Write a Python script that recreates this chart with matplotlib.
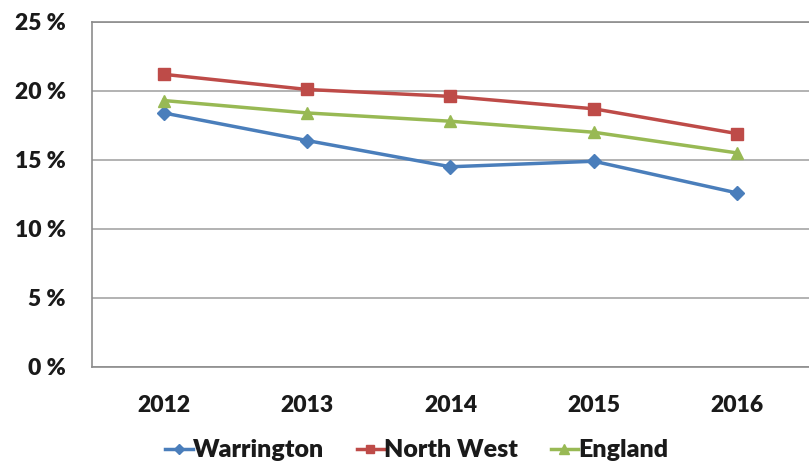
import matplotlib.pyplot as plt
from matplotlib.ticker import FuncFormatter

years = ['2012', '2013', '2014', '2015', '2016']
warrington = [18.4, 16.4, 14.5, 14.9, 12.6]
north_west = [21.2, 20.1, 19.6, 18.7, 16.9]
england = [19.3, 18.4, 17.8, 17.0, 15.5]

plt.rcParams['font.family'] = ['Lato', 'DejaVu Sans']

fig = plt.figure(figsize=(8.09, 4.65), dpi=100)
ax = fig.add_axes([0.1137, 0.211, 0.8863, 0.742])

x = range(len(years))
ax.plot(x, warrington, color='#4A7EBB', marker='D', markersize=7, linewidth=2.5, label='Warrington')
ax.plot(x, north_west, color='#BE4B48', marker='s', markersize=8, linewidth=2.5, label='North West')
ax.plot(x, england, color='#98B954', marker='^', markersize=9, linewidth=2.5, label='England')

ax.set_xlim(-0.5, 4.5)
ax.set_ylim(0, 25)
ax.set_yticks([0, 5, 10, 15, 20, 25])
ax.yaxis.set_major_formatter(FuncFormatter(lambda v, p: f'{int(v)} %'))
ax.set_xticks(list(x))
ax.set_xticklabels(years)

ax.grid(axis='y', color='#A6A6A6', linewidth=1.2)
ax.set_axisbelow(True)
for s in ['left', 'bottom', 'top']:
    ax.spines[s].set_color('#8C8C8C')
    ax.spines[s].set_linewidth(1.2)
ax.spines['right'].set_visible(False)

ax.tick_params(axis='y', length=0, pad=19, labelsize=16.5)
ax.tick_params(axis='x', length=0, pad=20, labelsize=16.5)
for lbl in ax.get_xticklabels() + ax.get_yticklabels():
    lbl.set_fontweight('heavy')
    lbl.set_color('#1A1A1A')

# legend below the axes, short handles touching the text
leg = ax.legend(loc='upper center', bbox_to_anchor=(0.453, -0.145), ncol=3, frameon=False,
                handlelength=1.1, handletextpad=0.0, columnspacing=1.3,
                markerscale=0.8, prop={'weight': 'heavy', 'size': 18})
for t in leg.get_texts():
    t.set_color('#1A1A1A')

plt.savefig('out.png')
